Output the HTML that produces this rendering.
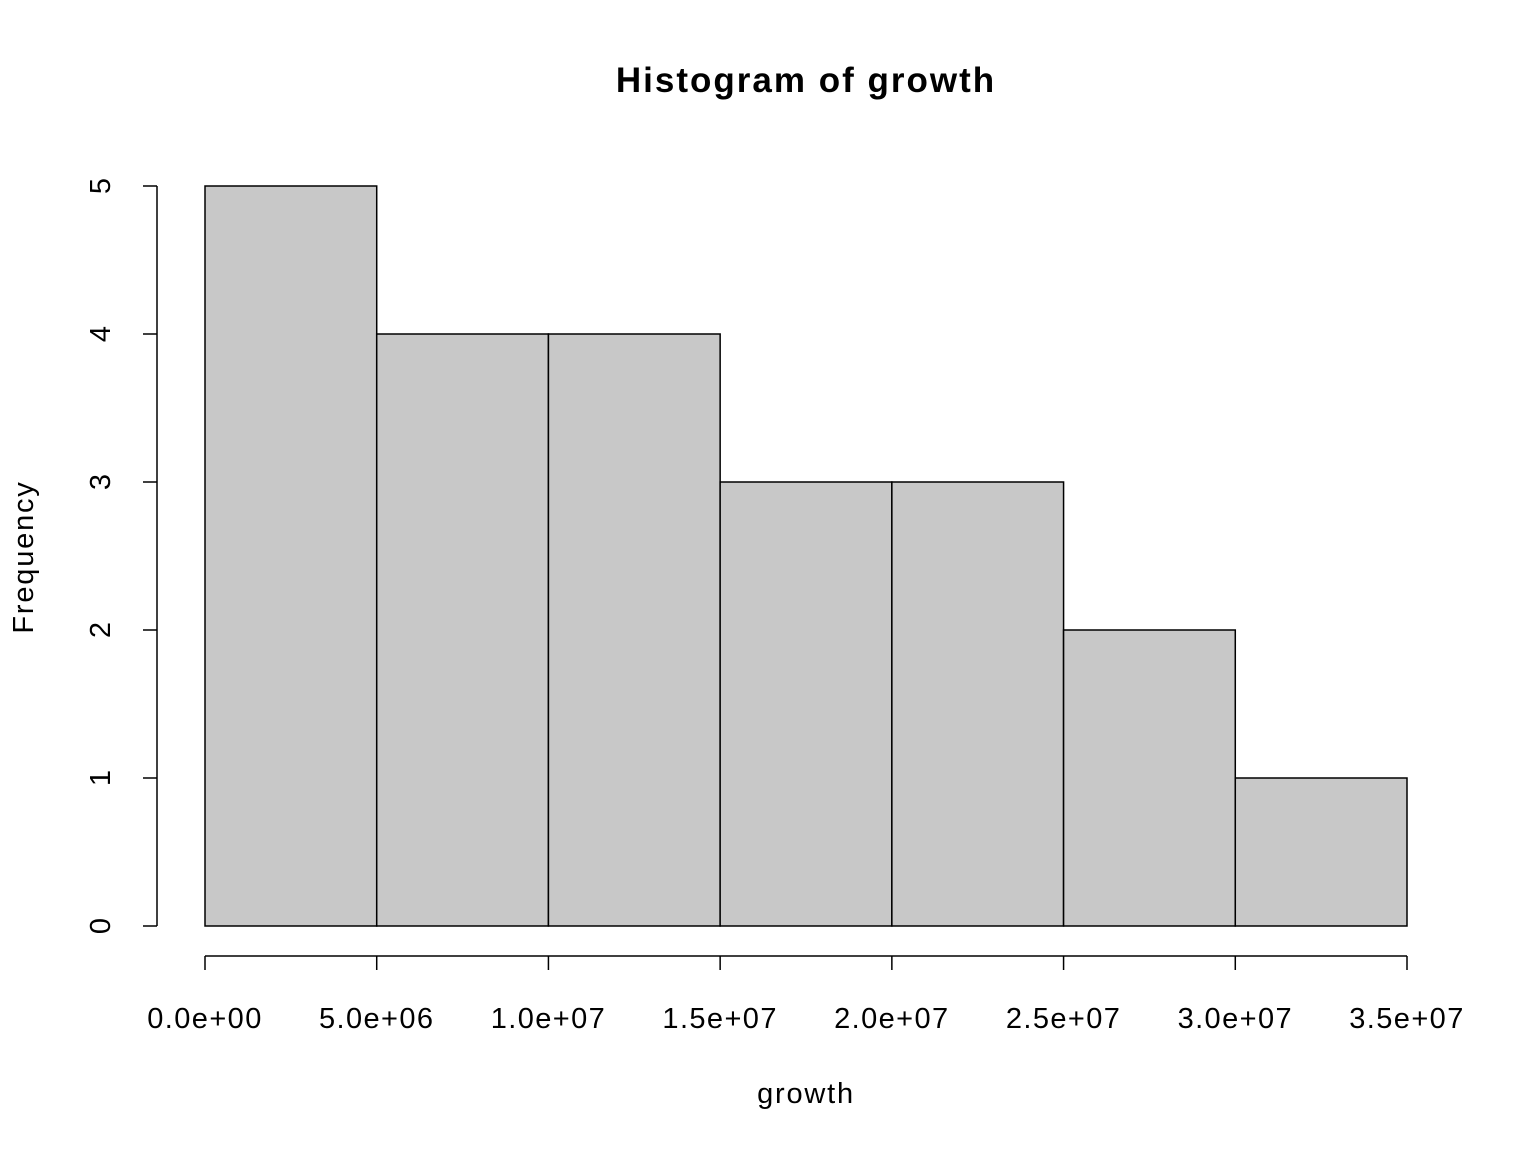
<!DOCTYPE html>
<html><head><meta charset="utf-8"><style>
html,body{margin:0;padding:0;background:#fff;}
svg{display:block;font-family:"Liberation Sans",Arial,sans-serif;}
</style></head><body>
<svg id="chart" width="1536" height="1152" viewBox="0 0 1536 1152">
<text x="806" y="92" text-anchor="middle" font-size="35" font-weight="bold" letter-spacing="2">Histogram of growth</text>
<text x="806" y="1103" text-anchor="middle" font-size="29" letter-spacing="1.8">growth</text>
<text transform="translate(33,557) rotate(-90)" text-anchor="middle" font-size="29" letter-spacing="1.8">Frequency</text>
<g id="bars"></g><g id="xaxis"></g><g id="yaxis"></g>
</svg>
<script>
const binEdges = [0, 5e6, 1e7, 1.5e7, 2e7, 2.5e7, 3e7, 3.5e7];
const counts = [5, 4, 4, 3, 3, 2, 1];
const xTicks = [0, 5e6, 1e7, 1.5e7, 2e7, 2.5e7, 3e7, 3.5e7];
const xTickLabels = ["0.0e+00","5.0e+06","1.0e+07","1.5e+07","2.0e+07","2.5e+07","3.0e+07","3.5e+07"];
const yTicks = [0, 1, 2, 3, 4, 5];

const NS = "http://www.w3.org/2000/svg";
const xs = v => 205 + (v - 0) / 3.5e7 * (1407 - 205);
const ys = v => 926 - v / 5 * (926 - 186);
function mk(tag, attrs, parent) {
  const e = document.createElementNS(NS, tag);
  for (const k in attrs) e.setAttribute(k, attrs[k]);
  parent.appendChild(e);
  return e;
}
const bars = document.getElementById('bars');
counts.forEach((c, i) => {
  const x0 = xs(binEdges[i]), x1 = xs(binEdges[i + 1]);
  const r = mk('rect', {x: x0, y: ys(c), width: x1 - x0, height: ys(0) - ys(c), fill: '#c8c8c8', stroke: '#000', 'stroke-width': 1.5}, bars);
  
  
});
const xa = document.getElementById('xaxis');
const xl = mk('line', {x1: xs(xTicks[0]), x2: xs(xTicks[xTicks.length - 1]), y1: 956, y2: 956, stroke: '#000', 'stroke-width': 1.5}, xa);


xTicks.forEach((t, i) => {
  mk('line', {x1: xs(t), x2: xs(t), y1: 956, y2: 970, stroke: '#000', 'stroke-width': 1.5}, xa);
  const tx = mk('text', {x: xs(t), y: 1028, 'text-anchor': 'middle', 'font-size': 29, 'letter-spacing': 1.4}, xa);
  tx.textContent = xTickLabels[i];
  
  
});
const ya = document.getElementById('yaxis');
const yl = mk('line', {x1: 157, x2: 157, y1: ys(yTicks[0]), y2: ys(yTicks[yTicks.length - 1]), stroke: '#000', 'stroke-width': 1.5}, ya);


yTicks.forEach(t => {
  mk('line', {x1: 143, x2: 157, y1: ys(t), y2: ys(t), stroke: '#000', 'stroke-width': 1.5}, ya);
  const tx = mk('text', {transform: 'translate(110,' + ys(t) + ') rotate(-90)', 'text-anchor': 'middle', 'font-size': 29}, ya);
  tx.textContent = String(t);
  
  
});
</script>
</body></html>
